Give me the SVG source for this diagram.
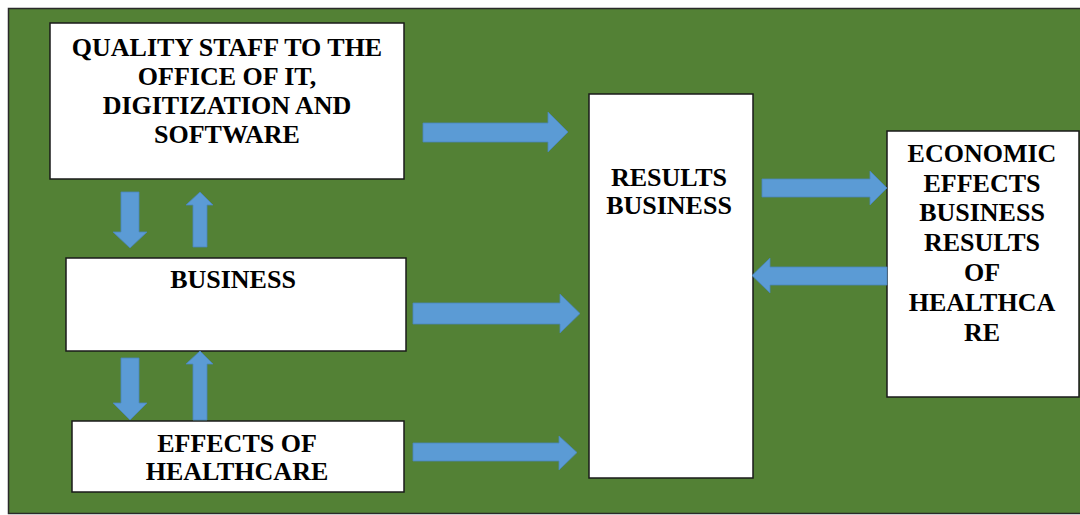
<svg xmlns="http://www.w3.org/2000/svg" width="1080" height="515" viewBox="0 0 1080 515">
<style>
.bg{fill:#538135;stroke:#2a2a2a;stroke-width:1.5}
.box{fill:#ffffff;stroke:#1a1a1a;stroke-width:1.5}
.t{font-family:"Liberation Serif","Times New Roman",serif;font-weight:bold;font-size:26px;fill:#000;text-anchor:middle}
.ar{fill:#5b9bd5;stroke:#4a86bd;stroke-width:0.8}
</style>
<rect width="1080" height="515" fill="#ffffff"/>
<rect class="bg" x="8.5" y="8.5" width="1080" height="505"/>
<g id="quality">
<rect class="box" x="50" y="23" width="354" height="156"/>
<text class="t" x="227" y="56">QUALITY STAFF TO THE</text>
<text class="t" x="227" y="85">OFFICE OF IT,</text>
<text class="t" x="227" y="114">DIGITIZATION AND</text>
<text class="t" x="227" y="143">SOFTWARE</text>
</g>
<g id="business">
<rect class="box" x="66" y="258" width="340" height="93"/>
<text class="t" x="233" y="288">BUSINESS</text>
</g>
<g id="effects">
<rect class="box" x="72" y="421" width="332" height="71"/>
<text class="t" x="237" y="452">EFFECTS OF</text>
<text class="t" x="237" y="480">HEALTHCARE</text>
</g>
<g id="results">
<rect class="box" x="589" y="94" width="164" height="384"/>
<text class="t" x="669" y="186">RESULTS</text>
<text class="t" x="669" y="214">BUSINESS</text>
</g>
<g id="economic">
<rect class="box" x="887" y="131" width="192" height="266"/>
<text class="t" x="982" y="162">ECONOMIC</text>
<text class="t" x="982" y="192">EFFECTS</text>
<text class="t" x="982" y="221">BUSINESS</text>
<text class="t" x="982" y="251">RESULTS</text>
<text class="t" x="982" y="281">OF</text>
<text class="t" x="982" y="311">HEALTHCA</text>
<text class="t" x="982" y="341">RE</text>
</g>
<g id="connectors">
<polygon class="ar" points="423,123 548,123 548,112 568,132 548,152 548,142 423,142"/>
<polygon class="ar" points="413,303 560,303 560,294 580,313.5 560,333 560,324 413,324"/>
<polygon class="ar" points="413,443 559,443 559,436 577,452.5 559,470 559,461 413,461"/>
<polygon class="ar" points="762,179 870,179 870,171 887,188 870,205 870,197 762,197"/>
<polygon class="ar" points="887,267 770,267 770,258 752,275.5 770,293 770,285 887,285"/>
<polygon class="ar" points="121,192 139,192 139,232 147,232 130,248 113,232 121,232"/>
<polygon class="ar" points="193,247 207,247 207,205 213,205 200,192 186,205 193,205"/>
<polygon class="ar" points="121,358 139,358 139,403 147,403 130,420 113,403 121,403"/>
<polygon class="ar" points="193,420 207,420 207,364 213,364 200,351 186,364 193,364"/>
</g>
</svg>
